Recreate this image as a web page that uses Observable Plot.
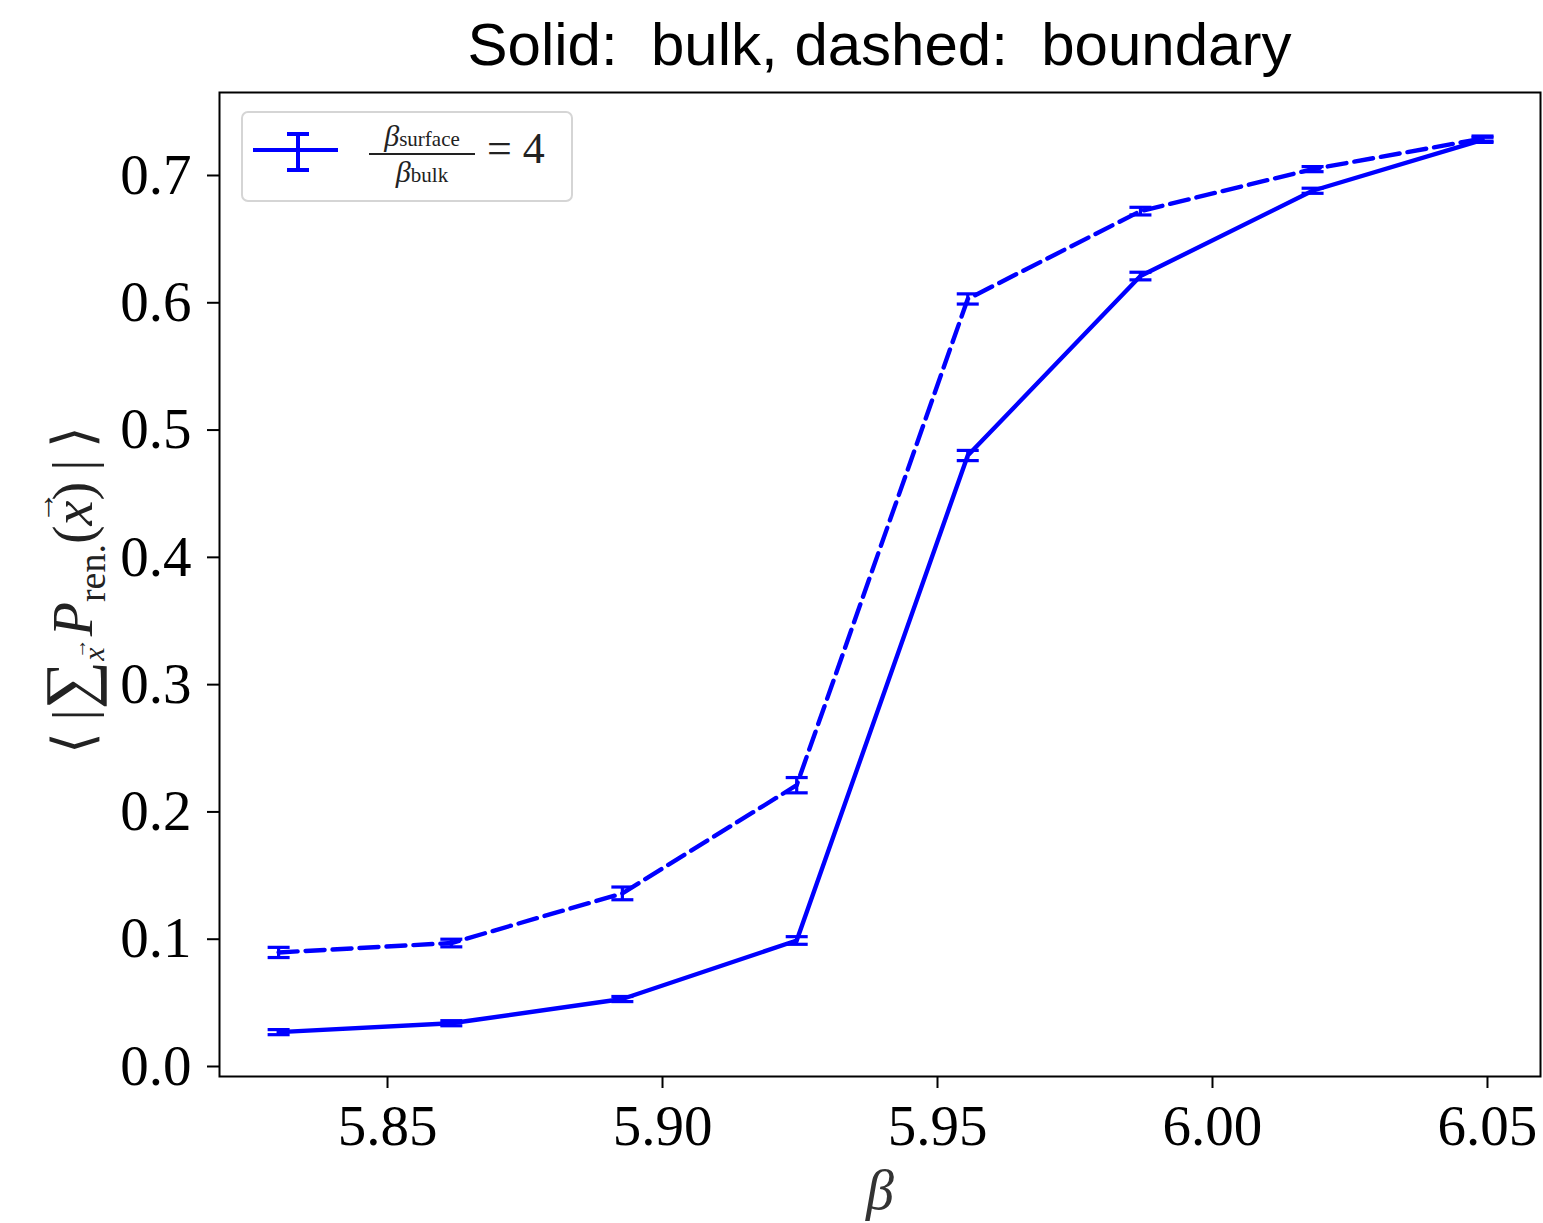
<!DOCTYPE html>
<html>
<head>
<meta charset="utf-8">
<script src="https://cdn.jsdelivr.net/npm/d3@7"></script>
<script src="https://cdn.jsdelivr.net/npm/@observablehq/plot@0.6"></script>
<style>
  html, body { margin: 0; padding: 0; background: #fff; }
  #wrap { position: relative; width: 1543px; height: 1223px; overflow: hidden; }
  #title { position: absolute; left: 219px; width: 1321px; top: 10px; text-align: center;
           font-family: "Liberation Sans", "DejaVu Sans", sans-serif; font-size: 60px; color: #000; }
  #chart { position: absolute; left: 0; top: 82px; }
  .ovl { position: absolute; font-family: "Liberation Serif", serif; color: #000; }
  #ylab { left: 72px; top: 590px; transform: translate(-50%, -50%) rotate(-90deg); white-space: nowrap; font-size: 56px; color: #222; }
  #xlab { left: 880px; top: 1190px; transform: translate(-50%, -50%); font-size: 56px; font-style: italic; color: #333; }
  #legend { left: 241px; top: 111px; width: 328px; height: 87px; border: 2px solid #d5d5d5; border-radius: 7px; background: rgba(255,255,255,0.85); box-sizing: content-box; }
  .vec { display: inline-block; position: relative; font-style: italic; line-height: normal; }
  .vec .arr { position: absolute; left: 2px; right: -4px; text-align: center; font-style: normal; line-height: normal; }
</style>
</head>
<body>
<div id="wrap">
  <div id="title">Solid:&nbsp; bulk, dashed:&nbsp; boundary</div>
  <div id="chart"></div>
  <div id="legend" class="ovl"></div>
  <div id="ylab" class="ovl">⟨&thinsp;|<span style="font-size:68px">∑</span><sub style="font-size:30px"><span class="vec">x<span class="arr" style="top:-9px;font-size:20px">→</span></span></sub>&thinsp;<i>P</i><sub style="font-size:38px">ren.</sub>(<span class="vec">x<span class="arr" style="top:-16px;font-size:32px">→</span></span>)&thinsp;|&thinsp;⟩</div>
  <div id="xlab" class="ovl">β</div>
</div>
<script>
// Data
const beta = [5.8302, 5.8616, 5.8927, 5.9244, 5.9555, 5.9869, 6.0182, 6.0491];
const bulk = [0.027, 0.034, 0.053, 0.099, 0.480, 0.621, 0.688, 0.728];
const bulkErr = [0.002, 0.002, 0.002, 0.003, 0.004, 0.003, 0.002, 0.002];
const boundary = [0.0896, 0.097, 0.136, 0.221, 0.603, 0.672, 0.705, 0.729];
const boundaryErr = [0.004, 0.003, 0.005, 0.006, 0.004, 0.003, 0.002, 0.002];
const xTicks = [5.85, 5.90, 5.95, 6.00, 6.05];
const yTicks = [0.0, 0.1, 0.2, 0.3, 0.4, 0.5, 0.6, 0.7];
const legendLabel = "= 4";

const rows = [];
beta.forEach((b, i) => {
  rows.push({series: "bulk", beta: b, v: bulk[i], e: bulkErr[i]});
  rows.push({series: "boundary", beta: b, v: boundary[i], e: boundaryErr[i]});
});
const bulkRows = rows.filter(d => d.series === "bulk");
const boundRows = rows.filter(d => d.series === "boundary");

const capSymbol = {
  draw(ctx, size) {
    const r = Math.sqrt(size / Math.PI);
    ctx.moveTo(-r, 0); ctx.lineTo(r, 0);
  }
};

const BLUE = "#0000ff";
const serif = "Liberation Serif, serif";

const plot = Plot.plot({
  width: 1543,
  height: 1141,
  marginTop: 10,
  marginBottom: 147,
  marginLeft: 219,
  marginRight: 3,
  style: {background: "transparent", color: "#000"},
  x: {domain: [5.81945, 6.05964]},
  y: {domain: [-0.00786, 0.7652]},
  marks: [
    Plot.axisX({ticks: xTicks, tickFormat: d => d.toFixed(2), tickSize: 12, tickPadding: 16,
                fontSize: 57, fontFamily: serif, strokeWidth: 2, label: null}),
    Plot.axisY({ticks: yTicks, tickFormat: d => d.toFixed(1), tickSize: 12, tickPadding: 16,
                fontSize: 57, fontFamily: serif, strokeWidth: 2, label: null}),
    Plot.line(bulkRows, {x: "beta", y: "v", stroke: BLUE, strokeWidth: 4.4}),
    Plot.line(boundRows, {x: "beta", y: "v", stroke: BLUE, strokeWidth: 4.4, strokeDasharray: "19,8"}),
    Plot.ruleX(rows, {x: "beta", y1: d => d.v - d.e, y2: d => d.v + d.e, stroke: BLUE, strokeWidth: 3.2}),
    Plot.dot(rows, {x: "beta", y: d => d.v + d.e, r: 11, symbol: capSymbol, stroke: BLUE, strokeWidth: 3.2, fill: "none"}),
    Plot.dot(rows, {x: "beta", y: d => d.v - d.e, r: 11, symbol: capSymbol, stroke: BLUE, strokeWidth: 3.2, fill: "none"}),
    Plot.frame({stroke: "#000", strokeWidth: 2})
  ]
});
document.getElementById("chart").appendChild(plot);

// Legend (not data): sample errorbar line + label
const lg = document.getElementById("legend");
lg.innerHTML = `
  <div style="position:absolute;left:10px;top:35px;width:85px;height:4px;background:${BLUE}"></div>
  <div style="position:absolute;left:53px;top:19px;width:4px;height:40px;background:${BLUE}"></div>
  <div style="position:absolute;left:44px;top:19px;width:22px;height:4px;background:${BLUE}"></div>
  <div style="position:absolute;left:44px;top:55px;width:22px;height:4px;background:${BLUE}"></div>
  <div style="position:absolute;left:124px;top:8px;width:110px;text-align:center;font-size:30px;color:#222;line-height:30px"><i>β</i><span style="font-size:21px">surface</span></div>
  <div style="position:absolute;left:126px;top:40px;width:106px;height:2px;background:#222"></div>
  <div style="position:absolute;left:124px;top:44px;width:110px;text-align:center;font-size:30px;color:#222;line-height:30px"><i>β</i><span style="font-size:21px">bulk</span></div>
  <div style="position:absolute;left:244px;top:14px;font-size:44px;color:#222;line-height:44px">${legendLabel}</div>
`;
</script>
</body>
</html>
